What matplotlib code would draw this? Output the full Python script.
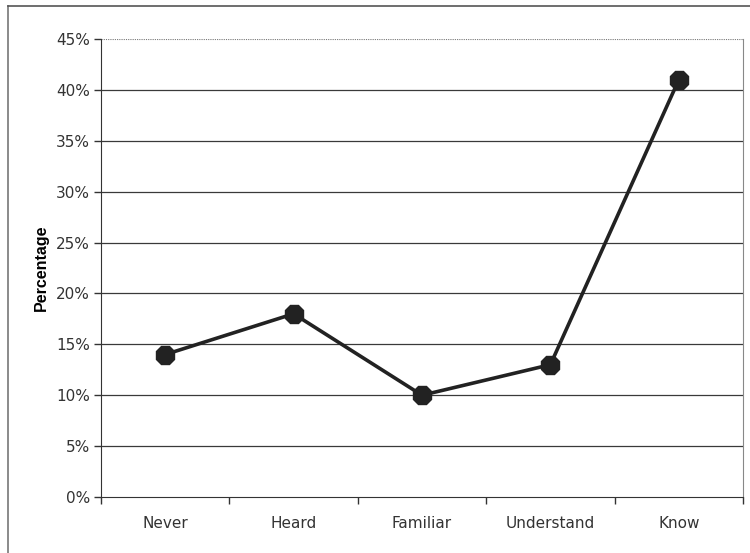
import numpy as np
import matplotlib.pyplot as plt
from matplotlib.lines import Line2D
from matplotlib.ticker import FixedLocator, PercentFormatter

# familiarity levels and share of respondents (%)
categories = ['Never', 'Heard', 'Familiar', 'Understand', 'Know']
percent = [14, 18, 10, 13, 41]
y_ticks = [0, 5, 10, 15, 20, 25, 30, 35, 40, 45]

plt.rcParams['font.family'] = ['Liberation Sans Narrow', 'DejaVu Sans']

fig = plt.figure(figsize=(7.5, 5.53), dpi=100)
ax = fig.add_axes([101 / 750, 56 / 553, 642 / 750, 458 / 553])

x = np.arange(len(categories))
ax.plot(x, percent, color='#222222', lw=2.6, marker='8', ms=14.5,
        mfc='#222222', mec='#222222', zorder=3)

ax.set_xlim(-0.5, len(categories) - 0.5)
ax.set_ylim(0, 45)

# horizontal gridlines, top one dotted
for v in y_ticks[1:-1]:
    ax.axhline(v, color='#3a3a3a', lw=0.9, zorder=1)
ax.axhline(45, color='#777777', lw=0.8, ls=(0, (1, 1)), zorder=1)

ax.set_yticks(y_ticks)
ax.yaxis.set_major_formatter(PercentFormatter(decimals=0))
ax.set_xticks(x)
ax.set_xticklabels(categories)
ax.xaxis.set_minor_locator(FixedLocator(np.arange(-0.5, len(categories), 1.0)))
ax.tick_params(axis='x', which='major', length=0, pad=14, labelsize=11,
               labelcolor='#333333')
ax.tick_params(axis='x', which='minor', length=5, width=1, color='#333333',
               direction='out')
ax.tick_params(axis='y', length=5, width=1, color='#333333', direction='out',
               pad=3, labelsize=11, labelcolor='#333333')

ax.spines['top'].set_visible(False)
ax.spines['left'].set_color('#333333')
ax.spines['bottom'].set_color('#333333')
ax.spines['right'].set_color('#888888')

ax.set_ylabel('Percentage', fontsize=11.5, fontweight='bold',
              family=['Liberation Sans', 'DejaVu Sans'], labelpad=5)

# outer chart frame
fig.add_artist(Line2D([8 / 750, 8 / 750], [0, 1 - 6 / 553],
                      transform=fig.transFigure, color='#777777', lw=1.2))
fig.add_artist(Line2D([8 / 750, 1], [1 - 6 / 553, 1 - 6 / 553],
                      transform=fig.transFigure, color='#555555', lw=1.2))

fig.savefig('out.png', dpi=100)
